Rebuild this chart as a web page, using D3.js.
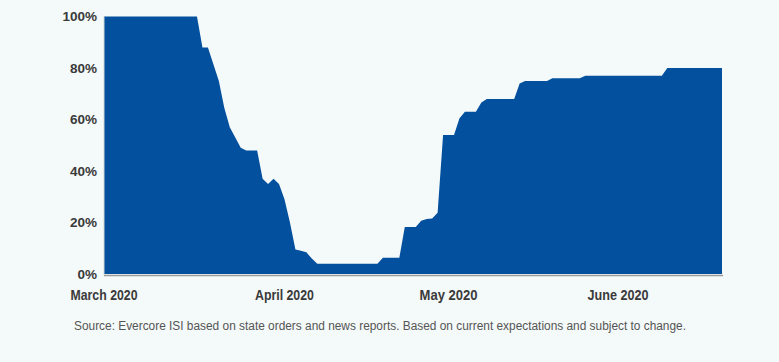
<!DOCTYPE html>
<html>
<head>
<meta charset="utf-8">
<script src="https://cdn.jsdelivr.net/npm/d3@7"></script>
<style>
  html, body { margin: 0; padding: 0; background: #f4f9f9; }
  svg { display: block; }
  .tick-y { font-family: "Liberation Sans", Arial, sans-serif; font-weight: bold; font-size: 13.5px; fill: #3a3a3a; }
  .tick-x { font-family: "Liberation Sans", Arial, sans-serif; font-weight: bold; font-size: 14px; fill: #3a3a3a; }
  .source { font-family: "Liberation Sans", Arial, sans-serif; font-size: 12.5px; fill: #555; }
</style>
</head>
<body>
<svg id="chart"></svg>
<script>
'use strict';

// share of activity open (vertices of the area)
var dates = [
  '2020-03-01', '2020-03-18', '2020-03-19', '2020-03-20', '2020-03-22',
  '2020-03-23', '2020-03-24', '2020-03-25', '2020-03-26', '2020-03-27',
  '2020-03-29', '2020-03-30', '2020-03-31', '2020-04-01', '2020-04-02',
  '2020-04-03', '2020-04-04', '2020-04-05', '2020-04-06', '2020-04-07',
  '2020-04-08', '2020-04-09', '2020-04-20', '2020-04-21', '2020-04-24',
  '2020-04-25', '2020-04-27', '2020-04-28', '2020-04-29', '2020-04-30',
  '2020-05-01', '2020-05-02', '2020-05-04', '2020-05-05', '2020-05-06',
  '2020-05-08', '2020-05-09', '2020-05-10', '2020-05-15', '2020-05-16',
  '2020-05-17', '2020-05-21', '2020-05-22', '2020-05-27', '2020-05-28',
  '2020-06-11', '2020-06-12', '2020-06-22'
];
var values = [
  100, 100, 88, 88, 75,
  64.5, 57, 53, 49, 48,
  48, 37, 35, 37, 35,
  29, 20, 9.5, 9, 8.4,
  6, 4, 4, 6.3, 6.3,
  18.3, 18.3, 20.7, 21.4, 21.6,
  23.8, 54, 54, 60.5, 63,
  63, 66.6, 68, 68, 74,
  75, 75, 76, 76, 77,
  77, 80, 80
];

var yTicks = [0, 20, 40, 60, 80, 100];
var xTickDates = ['2020-03-01', '2020-04-03', '2020-05-03', '2020-06-03'];
var xTickLabels = ['March 2020', 'April 2020', 'May 2020', 'June 2020'];
var source = 'Source: Evercore ISI based on state orders and news reports. Based on current expectations and subject to change.';

var width = 779,
  height = 362,
  margin = {'top': 16.5, 'left': 104, 'right': 57, 'bottom': 88},
  labelWidths = [67, 59, 58, 61];

var parse = d3.timeParse('%Y-%m-%d');
var data = dates.map(function (d, i) { return [parse(d), values[i]]; });

var svg = d3.select('#chart')
  .attr('width', width)
  .attr('height', height);

var xScale = d3.scaleTime()
  .domain([parse('2020-03-01'), parse('2020-06-22')])
  .range([margin.left, width - margin.right]);
var yScale = d3.scaleLinear()
  .domain([0, 100])
  .range([height - margin.bottom, margin.top]);

var area = d3.area()
  .x(function (d) { return xScale(d[0]); })
  .y0(yScale(0))
  .y1(function (d) { return yScale(d[1]); });

svg.append('path')
  .datum(data)
  .attr('fill', '#02509e')
  .attr('d', area);

// thin grey frame on left and bottom
svg.append('line')
  .attr('x1', xScale.range()[0]).attr('x2', xScale.range()[0])
  .attr('y1', yScale(100)).attr('y2', yScale(0) + 1.5)
  .attr('stroke', '#d2d6d6').attr('stroke-width', 1);
svg.append('line')
  .attr('x1', xScale.range()[0]).attr('x2', xScale.range()[1] + 1)
  .attr('y1', yScale(0) + 1.5).attr('y2', yScale(0) + 1.5)
  .attr('stroke', '#9a9c9c').attr('stroke-width', 1.5);

svg.selectAll('text.tick-y').data(yTicks).enter()
  .append('text')
  .classed('tick-y', true)
  .attr('x', 97)
  .attr('y', function (d) { return yScale(d); })
  .attr('dy', '0.36em')
  .attr('text-anchor', 'end')
  .text(function (d) { return d + '%'; });

svg.selectAll('text.tick-x').data(xTickDates).enter()
  .append('text')
  .classed('tick-x', true)
  .attr('x', function (d, i) { return xScale(parse(d)) - labelWidths[i] / 2; })
  .attr('y', 300)
  .attr('textLength', function (d, i) { return labelWidths[i]; })
  .attr('lengthAdjust', 'spacingAndGlyphs')
  .text(function (d, i) { return xTickLabels[i]; });

svg.append('text')
  .classed('source', true)
  .attr('x', 74)
  .attr('y', 330)
  .attr('textLength', 612)
  .attr('lengthAdjust', 'spacingAndGlyphs')
  .text(source);
</script>
</body>
</html>
